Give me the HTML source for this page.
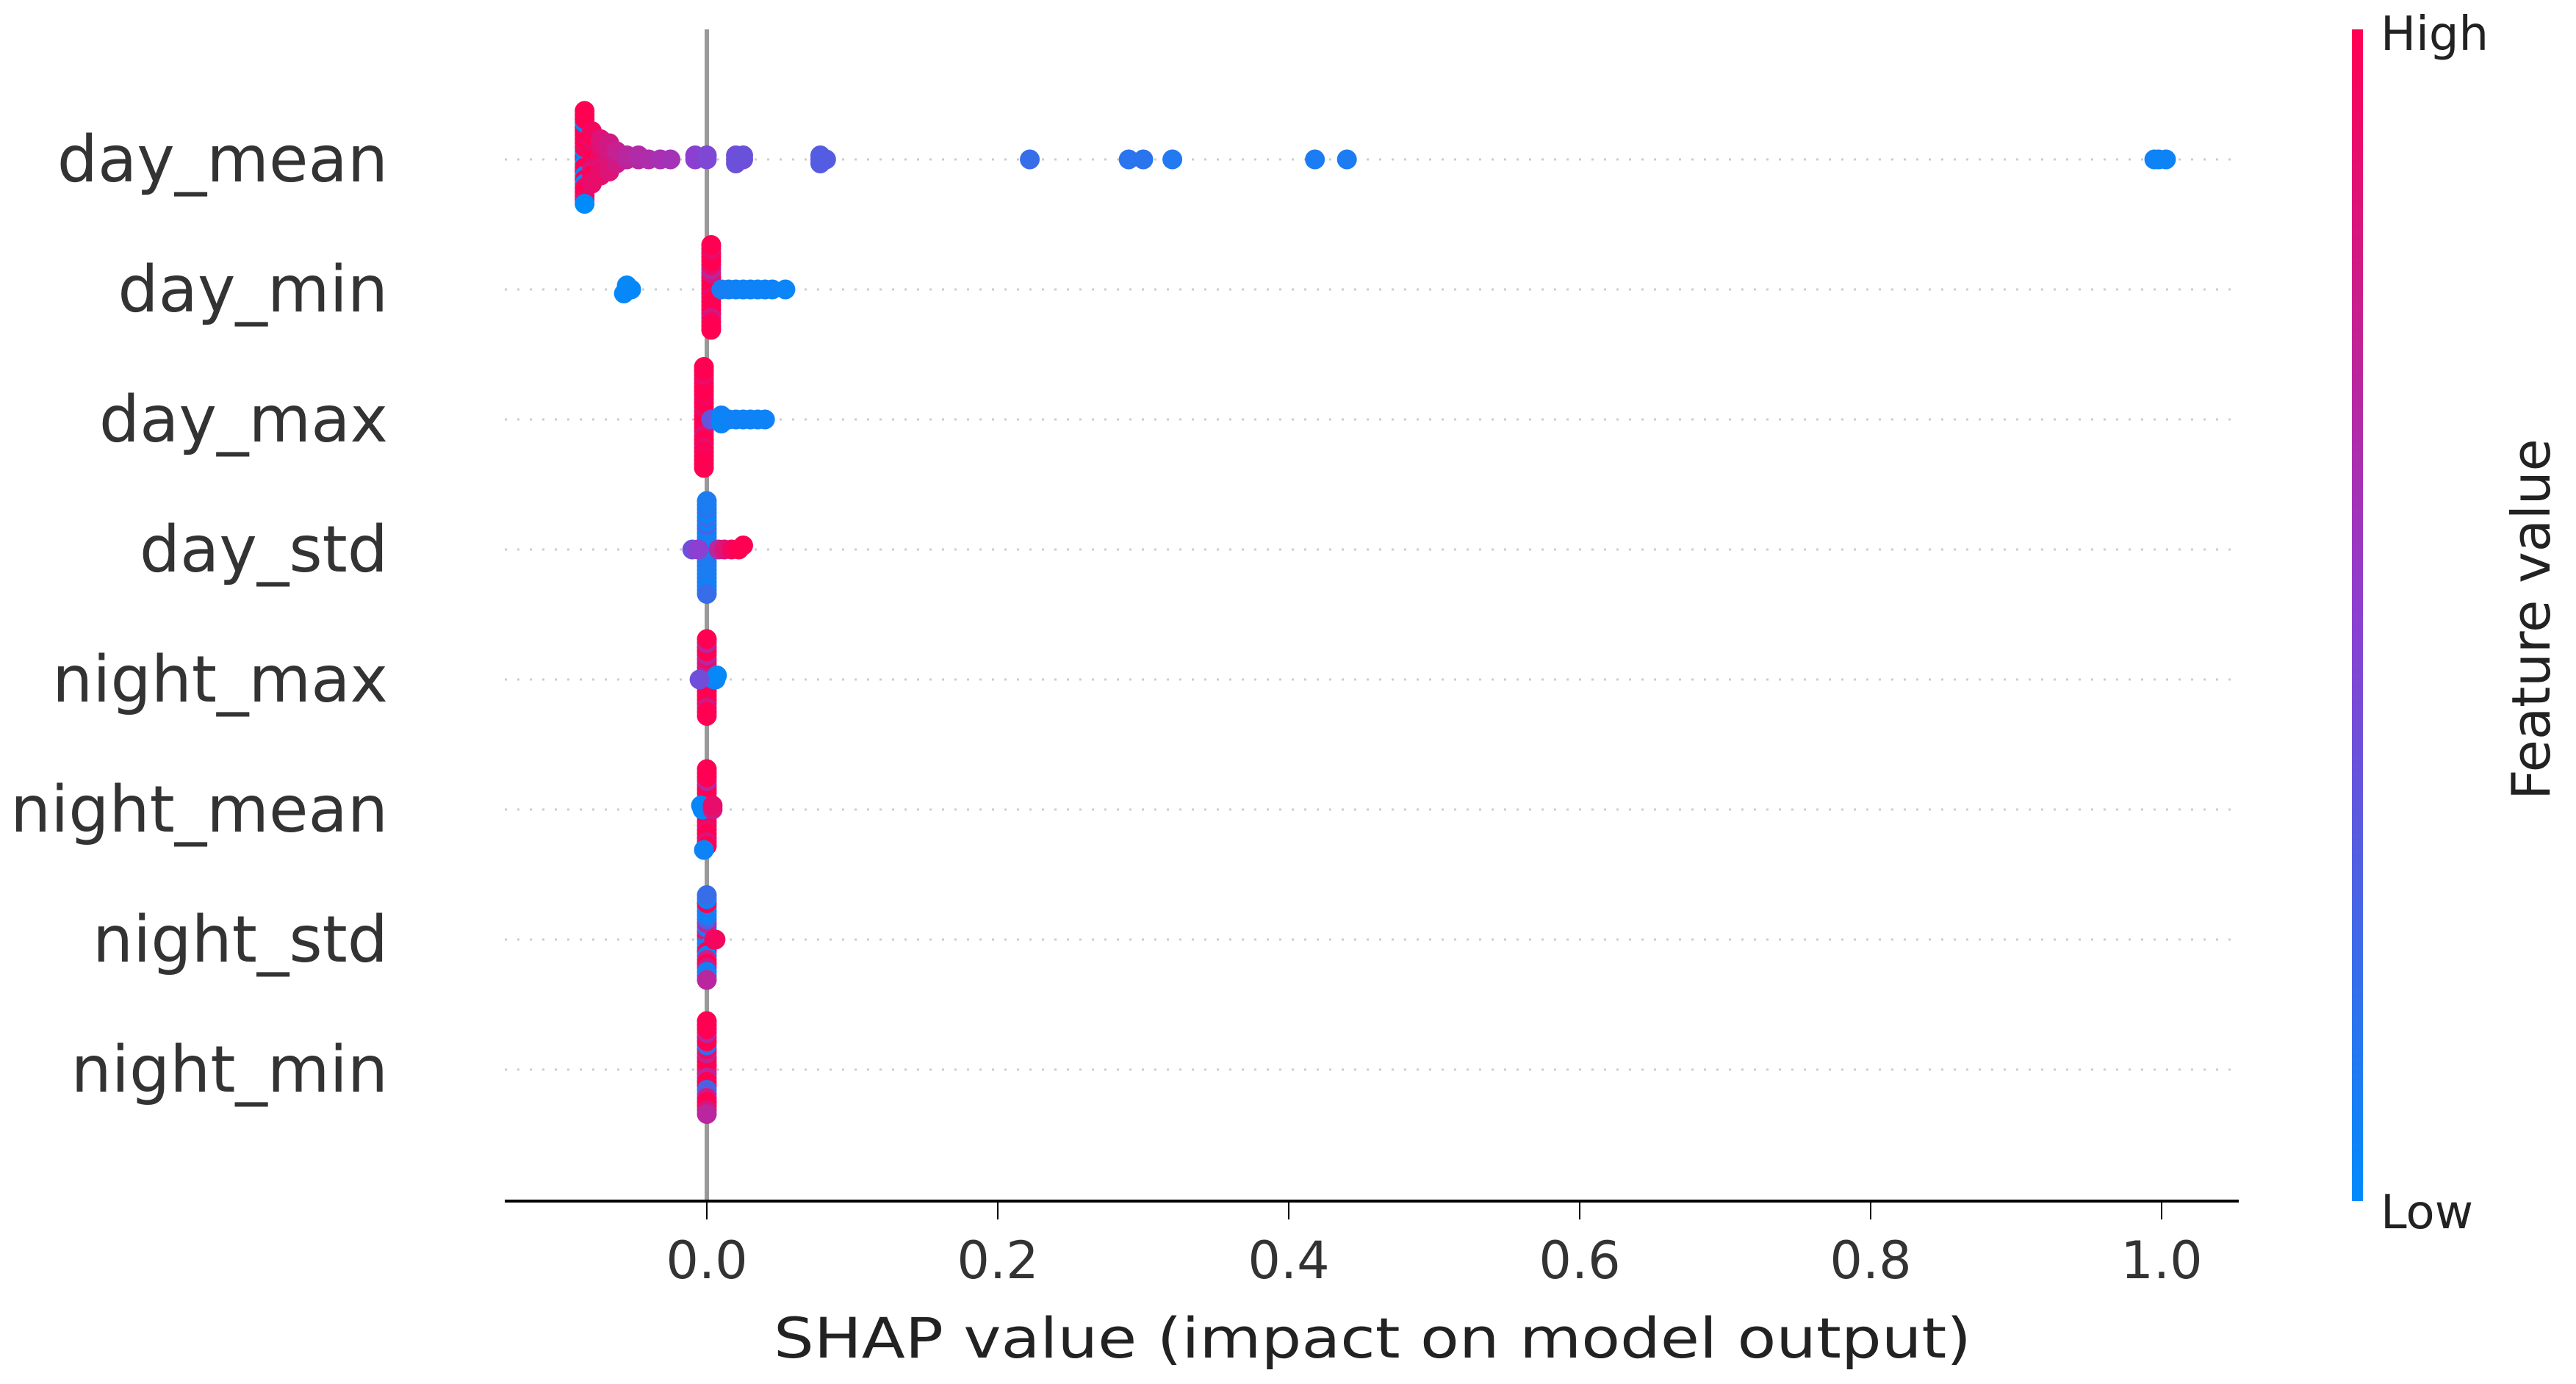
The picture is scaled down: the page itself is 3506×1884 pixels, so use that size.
<!DOCTYPE html>
<html><head><meta charset="utf-8"><style>
html,body{margin:0;padding:0;background:#fff;}
svg{display:block;font-family:"DejaVu Sans","Liberation Sans",sans-serif;}
</style></head><body>
<svg id="chart" width="3506" height="1884" viewBox="0 0 3506 1884" xmlns="http://www.w3.org/2000/svg">
<defs>
<linearGradient id="cbgrad" x1="0" y1="1" x2="0" y2="0">
<stop offset="0" stop-color="#008bfb"/>
<stop offset="0.5" stop-color="#8c3fd0"/>
<stop offset="1" stop-color="#ff0052"/>
</linearGradient>
</defs>
<g id="grid"></g>
<line x1="962" y1="40" x2="962" y2="1635" stroke="#999" stroke-width="6"/>
<g id="dots"></g>
<g id="ylabels"></g>
<line x1="687" y1="1635" x2="3047" y2="1635" stroke="#000" stroke-width="4"/>
<g id="xticks"></g>
<text x="1868" y="1848" text-anchor="middle" font-size="76" fill="#222" textLength="1630" lengthAdjust="spacingAndGlyphs">SHAP value (impact on model output)</text>
<rect x="3201" y="40" width="15" height="1595" fill="url(#cbgrad)"/>
<text x="3240" y="68" font-size="64" fill="#222">High</text>
<text x="3240" y="1672" font-size="64" fill="#222">Low</text>
<text transform="translate(3470,843) rotate(-90)" text-anchor="middle" font-size="72" fill="#222">Feature value</text>
</svg>
<script>
const features = ["day_mean","day_min","day_max","day_std","night_max","night_mean","night_std","night_min"];
const xTicks = [0.0,0.2,0.4,0.6,0.8,1.0];
const xTickLabels = ["0.0","0.2","0.4","0.6","0.8","1.0"];
const dayMeanVals = [-0.084,-0.084,-0.084,-0.084,-0.084,-0.084,-0.084,-0.084,-0.084,-0.084,-0.084,-0.084,-0.084,-0.084,-0.084,-0.084,-0.084,-0.084,-0.084,-0.084,-0.084,-0.084,-0.084,-0.084,
 -0.079,-0.079,-0.079,-0.079,-0.079,-0.079,-0.079,-0.079,-0.079,-0.079,-0.079,-0.079,-0.079,-0.079,
 -0.073,-0.073,-0.073,-0.073,-0.073,-0.073,-0.073,-0.073,-0.073,-0.073,
 -0.067,-0.067,-0.067,-0.067,-0.067,-0.067,-0.067,-0.067,
 -0.062,-0.062,-0.062,-0.062,-0.055,-0.055,-0.047,-0.047,-0.04,-0.032,-0.025,-0.008,-0.008,0.0,0.0,
 0.02,0.02,0.02,0.025,0.025,0.078,0.078,0.078,0.082,0.222,0.29,0.30,0.32,0.418,0.44,0.995,0.998,1.003];
const dayMeanFeat = [1,1,0,0,1,1,1,0.9,0,1,1,0.95,0,1,0.9,1,1,0,1,1,0.9,1,0,1,
 0.95,0.9,1,0.95,0.9,1,0.85,0.95,1,0.9,0.95,1,0.9,0.95,
 0.9,0.85,0.9,0.95,0.85,0.9,0.9,0.85,0.9,0.85,
 0.85,0.8,0.85,0.8,0.85,0.8,0.85,0.8,
 0.8,0.78,0.8,0.75,0.72,0.7,0.68,0.66,0.65,0.62,0.6,0.5,0.5,0.45,0.45,
 0.4,0.4,0.38,0.4,0.38,0.3,0.3,0.3,0.3,0.2,0.15,0.15,0.12,0.1,0.1,0.05,0.05,0.05];
const dayMinVals = [-0.055,-0.055,-0.052,-0.057,0.003,0.003,0.003,0.003,0.003,0.003,0.003,0.003,0.003,0.003,0.003,0.003,0.003,0.003,0.003,0.003,0.003,0.003,0.003,0.003,0.003,0.003,
 0.01,0.015,0.02,0.025,0.03,0.035,0.04,0.045,0.054];
const dayMinFeat = [0.02,0.02,0.02,0.02,1,1,0.95,1,0.9,1,1,0.85,1,0.7,1,0.9,1,1,0.8,1,0.95,1,1,0.9,1,1,
 0.1,0.08,0.06,0.05,0.05,0.05,0.05,0.05,0.04];
const dayMaxVals = [-0.002,-0.002,-0.002,-0.002,-0.002,-0.002,-0.002,-0.002,-0.002,-0.002,-0.002,-0.002,-0.002,-0.002,-0.002,-0.002,-0.002,-0.002,-0.002,-0.002,-0.002,-0.002,-0.002,-0.002,-0.002,-0.002,
 0.003,0.01,0.01,0.01,0.015,0.02,0.025,0.03,0.035,0.04];
const dayMaxFeat = [1,1,0.95,1,1,0.9,1,1,0.85,1,1,0.95,1,1,0.9,1,1,1,0.95,1,1,0.9,1,1,1,1,
 0.35,0.02,0.05,0.03,0.05,0.06,0.05,0.06,0.05,0.05];
const dayStdVals = [0,0,0,0,0,0,0,0,0,0,0,0,0,0,0,0,0,0,0,0,0,0,0,0,-0.01,-0.006,0.008,0.012,0.017,0.022,0.025];
const dayStdFeat = [0.1,0.15,0.05,0.1,0.2,0.1,0.02,0.1,0.15,0.05,0.1,0.25,0.1,0.05,0.1,0.2,0.1,0.02,0.1,0.15,0.05,0.1,0.2,0.1,0.4,0.5,0.7,0.85,0.95,1,1];
const nightMaxVals = [0,0,0,0,0,0,0,0,0,0,0,0,0,0,0,0,0,0,0,0,0.005,0.006,0.007,-0.005];
const nightMaxFeat = [1,1,0.8,1,0.7,1,1,0.75,1,0.9,1,0.7,1,1,0.8,1,1,0.7,1,1,0.02,0.05,0.02,0.4];
const nightMeanVals = [0,0,0,0,0,0,0,0,0,0,0,0,0,0,0,0,0,0,0,0,-0.003,-0.002,-0.004,0.004,0.004];
const nightMeanFeat = [1,1,0.9,1,0.7,1,1,0.8,1,1,0.9,1,1,0.7,1,1,0.85,1,1,1,0.02,0.05,0.03,0.8,0.9];
const nightStdVals = [0,0,0,0,0,0,0,0,0,0,0,0,0,0,0,0,0,0,0,0,0,0,0.005,0.006];
const nightStdFeat = [0.05,1,0.1,0.8,0.05,0.1,1,0.7,0.05,0.3,0.75,0.1,1,0.05,0.8,0.1,0.05,1,0.1,0.05,0.7,0.2,1,0.95];
const nightMinVals = [0,0,0,0,0,0,0,0,0,0,0,0,0,0,0,0,0,0,0,0,0,0,0,0];
const nightMinFeat = [1,1,0.8,1,0.7,1,1,0.75,1,0.9,0.25,0.2,0.3,1,0.8,1,1,0.7,1,1,0.85,1,0.7,1];

const rowVals = [dayMeanVals,dayMinVals,dayMaxVals,dayStdVals,nightMaxVals,nightMeanVals,nightStdVals,nightMinVals];
const rowFeat = [dayMeanFeat,dayMinFeat,dayMaxFeat,dayStdFeat,nightMaxFeat,nightMeanFeat,nightStdFeat,nightMinFeat];

const NS = "http://www.w3.org/2000/svg";
function xScale(v){ return 962 + v*1980; }
function yScale(i){ return 217 + i*177; }
function color(f){
  const a=[0,139,251], m=[140,63,208], b=[255,0,82];
  let c;
  if(f<0.5){const t=f/0.5; c=a.map((v,k)=>Math.round(v+(m[k]-v)*t));}
  else {const t=(f-0.5)/0.5; c=m.map((v,k)=>Math.round(v+(b[k]-v)*t));}
  return `rgb(${c[0]},${c[1]},${c[2]})`;
}
const grid=document.getElementById('grid'), dots=document.getElementById('dots'),
      ylab=document.getElementById('ylabels'), xt=document.getElementById('xticks');
features.forEach((name,i)=>{
  const y=yScale(i);
  const gl=document.createElementNS(NS,'line');
  
  
  gl.setAttribute('x1',687);gl.setAttribute('x2',3047);gl.setAttribute('y1',y);gl.setAttribute('y2',y);
  gl.setAttribute('stroke','#ccc');gl.setAttribute('stroke-width','3');gl.setAttribute('stroke-dasharray','3 14');
  grid.appendChild(gl);
  const t=document.createElementNS(NS,'text');
  
  
  t.setAttribute('x',528);t.setAttribute('y',y+30);t.setAttribute('text-anchor','end');
  t.setAttribute('font-size','87');t.setAttribute('fill','#333');
  t.textContent=name; ylab.appendChild(t);
  const vals=rowVals[i], feats=rowFeat[i];
  const bins={};
  vals.forEach((v,j)=>{
    const b=Math.round(v/0.004);
    bins[b]=(bins[b]||0);
    const k=bins[b]; bins[b]++;
    const off=(k===0)?0:((k%2)?-1:1)*Math.ceil(k/2)*5.5;
    const c=document.createElementNS(NS,'circle');
    
    
    c.setAttribute('cx',xScale(v));c.setAttribute('cy',y+off);c.setAttribute('r',13.5);
    c.setAttribute('fill',color(feats[j]));
    dots.appendChild(c);
  });
});
xTicks.forEach((v,i)=>{
  const x=xScale(v);
  const l=document.createElementNS(NS,'line');
  
  
  l.setAttribute('x1',x);l.setAttribute('x2',x);l.setAttribute('y1',1635);l.setAttribute('y2',1660);
  l.setAttribute('stroke','#000');l.setAttribute('stroke-width','2');
  xt.appendChild(l);
  const t=document.createElementNS(NS,'text');
  
  
  t.setAttribute('x',x);t.setAttribute('y',1740);t.setAttribute('text-anchor','middle');
  t.setAttribute('font-size','70');t.setAttribute('fill','#333');
  t.textContent=xTickLabels[i]; xt.appendChild(t);
});
</script>
</body></html>
